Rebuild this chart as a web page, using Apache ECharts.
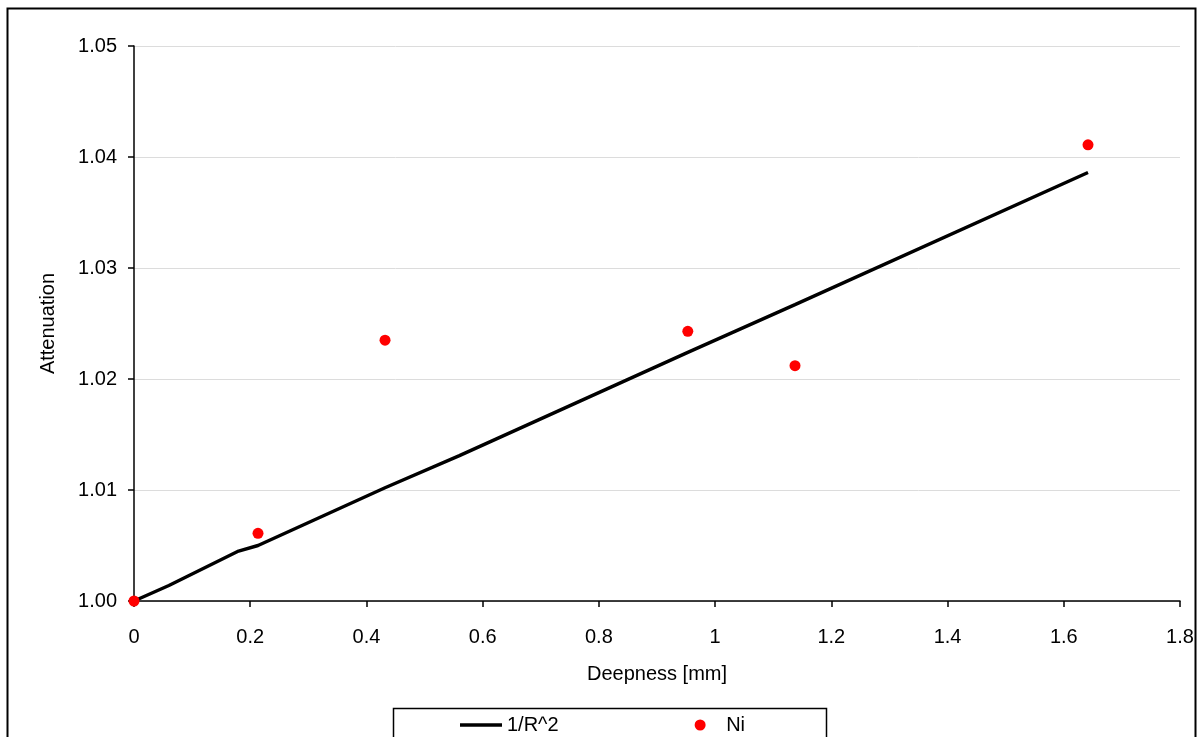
<!DOCTYPE html>
<html>
<head>
<meta charset="utf-8">
<script src="https://cdn.jsdelivr.net/npm/echarts@6/dist/echarts.min.js"></script>
<style>
  html, body { margin: 0; padding: 0; background: #fff; }
  #chart { width: 1201px; height: 737px; }
</style>
</head>
<body>
<div id="chart"></div>
<script>
// Inverse-square reference curve (deepness in mm, relative attenuation)
const curveDepth = [0, 0.06, 0.18, 0.2134, 0.432, 0.56, 0.953, 1.1375, 1.6417];
const curveAtten = [1.0000, 1.0014, 1.0045, 1.0050, 1.0102, 1.0131, 1.0224, 1.0267, 1.0386];

// Measured Ni attenuation
const niDepth = [0, 0.2134, 0.432, 0.953, 1.1375, 1.6417];
const niAtten = [1.0000, 1.0061, 1.0235, 1.0243, 1.0212, 1.0411];

const xTicks = { min: 0, max: 1.8, interval: 0.2 };
const yTicks = { min: 1.00, max: 1.05, interval: 0.01 };

const font = 'Liberation Sans, Arial, sans-serif';
const fs = 20;
const chart = echarts.init(document.getElementById('chart'), null, { renderer: 'canvas' });

chart.setOption({
  animation: false,
  backgroundColor: '#ffffff',
  textStyle: { fontFamily: font, color: '#000' },
  grid: { left: 134, right: 21, top: 46, bottom: 136 },
  graphic: [
    { type: 'rect', shape: { x: 7.5, y: 8.5, width: 1188, height: 760 },
      style: { fill: 'none', stroke: '#000', lineWidth: 2 }, z: 0 },
    { type: 'rect', shape: { x: 393.5, y: 708.5, width: 433, height: 60 },
      style: { fill: '#fff', stroke: '#000', lineWidth: 1.5 }, z: 0 }
  ],
  legend: {
    left: 460, top: 715,
    itemWidth: 42, itemHeight: 11, itemGap: 136,
    padding: 0,
    textStyle: { fontFamily: font, fontSize: fs, color: '#000' },
    data: [
      { name: '1/R^2', icon: 'path://M0,0 L42,0 L42,3.4 L0,3.4 Z', itemStyle: { color: '#000' } },
      { name: 'Ni', icon: 'circle', itemStyle: { color: '#ff0000', opacity: 1 } }
    ]
  },
  xAxis: {
    type: 'value',
    min: xTicks.min, max: xTicks.max, interval: xTicks.interval,
    name: 'Deepness [mm]', nameLocation: 'middle', nameGap: 63,
    nameTextStyle: { fontFamily: font, fontSize: fs, color: '#000' },
    axisLine: { show: true, onZero: false, lineStyle: { color: '#000', width: 1.5 } },
    axisTick: { show: true, inside: false, length: 6, lineStyle: { color: '#000', width: 1.5 } },
    axisLabel: { fontFamily: font, fontSize: fs, color: '#000', margin: 26,
      formatter: v => String(Math.round(v * 10) / 10) },
    splitLine: { show: false }
  },
  yAxis: {
    type: 'value',
    min: yTicks.min, max: yTicks.max, interval: yTicks.interval,
    name: 'Attenuation', nameLocation: 'middle', nameGap: 76, nameRotate: 90,
    nameTextStyle: { fontFamily: font, fontSize: fs, color: '#000' },
    axisLine: { show: true, lineStyle: { color: '#000', width: 1.5 } },
    axisTick: { show: true, inside: false, length: 6, lineStyle: { color: '#000', width: 1.5 } },
    axisLabel: { fontFamily: font, fontSize: fs, color: '#000', margin: 17,
      formatter: v => v.toFixed(2) },
    splitLine: { show: true, lineStyle: { color: '#dcdcdc', width: 1 } }
  },
  series: [
    {
      name: '1/R^2', type: 'line',
      data: curveDepth.map((x, i) => [x, curveAtten[i]]),
      symbol: 'none', lineStyle: { color: '#000', width: 3.4 },
      itemStyle: { color: '#000' }, z: 3
    },
    {
      name: 'Ni', type: 'scatter',
      data: niDepth.map((x, i) => [x, niAtten[i]]),
      symbol: 'circle', symbolSize: 11,
      itemStyle: { color: '#ff0000', opacity: 1 }, z: 4
    }
  ]
});
</script>
</body>
</html>
